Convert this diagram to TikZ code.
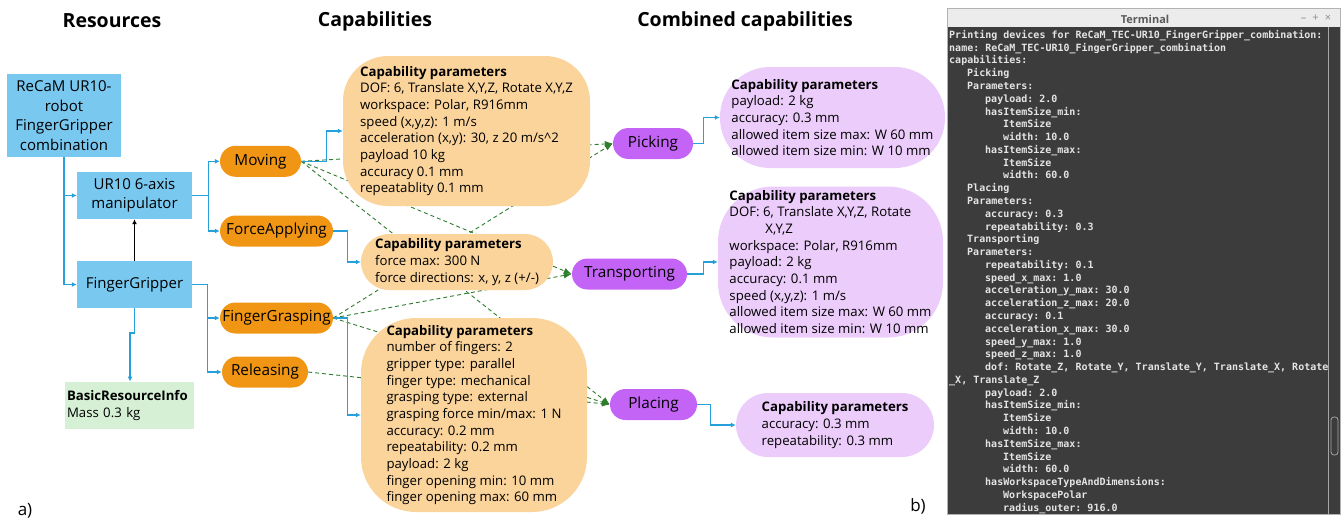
\documentclass[tikz,border=0pt]{standalone}
\usepackage{fontspec}
\setmainfont{Open Sans}
\setmonofont{DejaVu Sans Mono}
\usetikzlibrary{arrows.meta}
\pgfdeclarelayer{bg}
\pgfsetlayers{bg,main}
\definecolor{resblue}{RGB}{120,200,240}
\definecolor{bline}{RGB}{38,160,218}
\definecolor{capor}{RGB}{240,150,20}
\definecolor{paror}{RGB}{250,212,155}
\definecolor{ccpur}{RGB}{196,100,246}
\definecolor{cppur}{RGB}{236,204,250}
\definecolor{brigreen}{RGB}{213,240,212}
\definecolor{depgreen}{RGB}{45,125,45}
\definecolor{termbg}{RGB}{60,60,60}
\definecolor{termtxt}{RGB}{228,228,228}
\definecolor{titlebg}{RGB}{236,236,236}
\begin{document}
\begin{tikzpicture}[x=1pt,y=-1pt,
  resnode/.style={rectangle, fill=resblue, inner sep=1pt, align=center, font=\fontsize{15}{19.5}\selectfont},
  capnode/.style={rectangle, rounded corners=15.5pt, fill=capor, font=\fontsize{15.3}{18}\selectfont, minimum height=31pt, inner sep=0pt},
  capparam/.style={rectangle, fill=paror, align=left, font=\fontsize{13.2}{16.67}\selectfont, inner sep=0pt},
  combnode/.style={rectangle, rounded corners=15.5pt, fill=ccpur, font=\fontsize{15.3}{18}\selectfont, minimum height=31pt, inner sep=0pt},
  combparam/.style={rectangle, fill=cppur, align=left, font=\fontsize{13.2}{16.67}\selectfont, inner sep=0pt},
  bl/.style={draw=bline, line width=1.2pt, -{Latex[length=5pt,width=5pt]}},
  dep/.style={draw=depgreen, line width=0.9pt, dash pattern=on 4pt off 3pt, -{Latex[length=8pt,width=6pt]}},
  header/.style={font=\bfseries\fontsize{19.5}{23}\selectfont},
  term/.style={font=\ttfamily\bfseries\fontsize{10}{12.78}\selectfont, text=termtxt, align=left, inner sep=0pt},
]
\useasboundingbox (0,0) rectangle (1343,522);

% headers
\node[header] (h1) at (112,21) {Resources};
\node[header] (h2) at (375,21) {Capabilities};
\node[header] (h3) at (745,21) {Combined capabilities};

% resources
\node[resnode, minimum width=114pt, minimum height=83pt] (combo) at (64,115.5) {ReCaM UR10-\\robot\\FingerGripper\\combination};
\node[resnode, minimum width=115pt, minimum height=47pt] (ur10) at (134.5,195.5) {UR10 6-axis\\manipulator};
\node[resnode, minimum width=115pt, minimum height=47pt] (fg) at (134.5,284.5) {FingerGripper};
\node[rectangle, fill=brigreen, minimum width=129pt, minimum height=47.5pt, align=left, font=\fontsize{13.2}{16.67}\selectfont, text width=125pt, inner sep=2pt] (bri) at (129.5,405.5) {\textbf{BasicResourceInfo}\\Mass 0.3 kg};

% capabilities
\node[capnode, minimum width=81pt] (moving) at (260.5,161.3) {Moving};
\node[capnode, minimum width=113pt] (force) at (276.5,231) {ForceApplying};
\node[capnode, minimum width=113pt] (grasp) at (276.5,318) {FingerGrasping};
\node[capnode, minimum width=86pt] (rel) at (265,372) {Releasing};

% combined capabilities
\node[combnode, minimum width=80pt] (pick) at (653,143.5) {Picking};
\node[combnode, minimum width=115pt] (trans) at (629.5,274) {Transporting};
\node[combnode, minimum width=87pt] (plac) at (653.5,404.5) {Placing};

% dependency connectors (behind the parameter boxes)
\begin{pgfonlayer}{bg}
\draw[dep] (moving.east) -- (pick.west);
\draw[dep] (moving.east) -- (trans.west);
\draw[dep] (moving.east) -- (plac.west);
\draw[dep] (grasp.east) -- (pick.west);
\draw[dep] (grasp.east) -- (trans.west);
\draw[dep] (grasp.east) -- (plac.west);
\draw[dep] (rel.east) -- (plac.west);
\end{pgfonlayer}

% capability parameters
\node[capparam, minimum width=247pt, minimum height=150pt, rounded corners=45pt] (p1) at (466.5,131) {\textbf{Capability parameters}\\DOF: 6, Translate X,Y,Z, Rotate X,Y,Z\\workspace: Polar, R916mm\\speed (x,y,z): 1 m/s\\acceleration (x,y): 30, z 20 m/s\textasciicircum2\\payload 10 kg\\accuracy 0.1 mm\\repeatablity 0.1 mm};
\node[capparam, minimum width=192pt, minimum height=56pt, rounded corners=28pt] (p2) at (457,262) {\textbf{Capability parameters}\\force max: 300 N\\force directions: x, y, z (+/-)};
\node[capparam, minimum width=226pt, minimum height=194pt, rounded corners=55pt] (p3) at (474,415) {\textbf{Capability parameters}\\number of fingers: 2\\gripper type: parallel\\finger type: mechanical\\grasping type: external\\grasping force min/max: 1 N\\accuracy: 0.2 mm\\repeatability: 0.2 mm\\payload: 2 kg\\finger opening min: 10 mm\\finger opening max: 60 mm};

% combined parameters
\node[combparam, minimum width=225pt, minimum height=101pt, rounded corners=50pt] (c1) at (832.5,117.5) {\textbf{Capability parameters}\\payload: 2 kg\\accuracy: 0.3 mm\\allowed item size max: W 60 mm\\allowed item size min: W 10 mm};
\node[combparam, minimum width=225pt, minimum height=151pt, rounded corners=55pt] (c2) at (830.5,262) {\textbf{Capability parameters}\\DOF: 6, Translate X,Y,Z, Rotate\\\hspace*{36pt}X,Y,Z\\workspace: Polar, R916mm\\payload: 2 kg\\accuracy: 0.1 mm\\speed (x,y,z): 1 m/s\\allowed item size max: W 60 mm\\allowed item size min: W 10 mm};
\node[combparam, minimum width=198pt, minimum height=64pt, rounded corners=32pt] (c3) at (835,425) {\textbf{Capability parameters}\\accuracy: 0.3 mm\\repeatability: 0.3 mm};

% resource connectors
\draw[bl] (combo.south) |- (ur10.west);
\draw[bl] (combo.south) |- (fg.west);
\draw[line width=1.2pt, -{Latex[length=5pt,width=5pt]}] (fg.north) -- (ur10.south);
\coordinate (brk) at (130,333);
\draw[bl] (fg.south) |- (brk) -- (bri.north -| brk);
\draw[bl] (ur10.east) -- ++(16,0) |- (moving.west);
\draw[bl] (ur10.east) -- ++(16,0) |- (force.west);
\draw[bl] (fg.east) -- ++(15,0) |- (grasp.west);
\draw[bl] (fg.east) -- ++(15,0) |- (rel.west);
\draw[bl] (moving.east) -- ++(25,0) |- (p1.west);
\draw[bl] (force.east) -- ++(14,0) |- (p2.west);
\draw[bl] (grasp.east) -- ++(14,0) |- (p3.west);
\draw[bl] (pick.east) -- ++(10,0) |- (c1.west);
\draw[bl] (trans.east) -- ++(16,0) |- (c2.west);
\draw[bl] (plac.east) -- ++(13,0) |- (c3.west);

% labels
\node[font=\fontsize{17}{20}\selectfont] (la) at (25,511) {a)};
\node[font=\fontsize{17}{20}\selectfont] (lb) at (918,506) {b)};

% terminal
\fill[titlebg] (947,8) rectangle (1340,27);
\fill[termbg] (947,27) rectangle (1340,514);
\draw[gray!60, line width=0.6pt] (947,8) rectangle (1340,514);
\draw[gray!70, line width=0.5pt] (1328,27) -- (1328,514);
\draw[gray!70, line width=0.8pt, rounded corners=3pt] (1331,417) rectangle (1338,455);
\node[font=\bfseries\fontsize{11}{13}\selectfont, text=black!65] (ttl) at (1145,19) {Terminal};
\node[font=\fontsize{11}{13}\selectfont, text=black!45] (btn) at (1316,18) {–\hspace{6pt}+\hspace{6pt}×};
\node[term, anchor=north west] (tt) at (949,30) {Printing devices for ReCaM\_TEC-UR10\_FingerGripper\_combination:\\
name: ReCaM\_TEC-UR10\_FingerGripper\_combination\\
capabilities:\\
\hspace*{18pt}Picking\\
\hspace*{18pt}Parameters:\\
\hspace*{36pt}payload: 2.0\\
\hspace*{36pt}hasItemSize\_min:\\
\hspace*{54pt}ItemSize\\
\hspace*{54pt}width: 10.0\\
\hspace*{36pt}hasItemSize\_max:\\
\hspace*{54pt}ItemSize\\
\hspace*{54pt}width: 60.0\\
\hspace*{18pt}Placing\\
\hspace*{18pt}Parameters:\\
\hspace*{36pt}accuracy: 0.3\\
\hspace*{36pt}repeatability: 0.3\\
\hspace*{18pt}Transporting\\
\hspace*{18pt}Parameters:\\
\hspace*{36pt}repeatability: 0.1\\
\hspace*{36pt}speed\_x\_max: 1.0\\
\hspace*{36pt}acceleration\_y\_max: 30.0\\
\hspace*{36pt}acceleration\_z\_max: 20.0\\
\hspace*{36pt}accuracy: 0.1\\
\hspace*{36pt}acceleration\_x\_max: 30.0\\
\hspace*{36pt}speed\_y\_max: 1.0\\
\hspace*{36pt}speed\_z\_max: 1.0\\
\hspace*{36pt}dof: Rotate\_Z, Rotate\_Y, Translate\_Y, Translate\_X, Rotate\\
\_X, Translate\_Z\\
\hspace*{36pt}payload: 2.0\\
\hspace*{36pt}hasItemSize\_min:\\
\hspace*{54pt}ItemSize\\
\hspace*{54pt}width: 10.0\\
\hspace*{36pt}hasItemSize\_max:\\
\hspace*{54pt}ItemSize\\
\hspace*{54pt}width: 60.0\\
\hspace*{36pt}hasWorkspaceTypeAndDimensions:\\
\hspace*{54pt}WorkspacePolar\\
\hspace*{54pt}radius\_outer: 916.0};
\end{tikzpicture}
\end{document}
